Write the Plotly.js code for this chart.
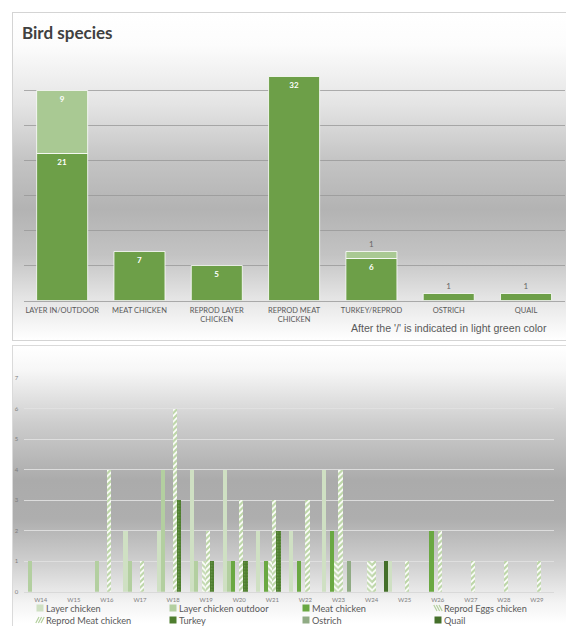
<!DOCTYPE html>
<html>
<head>
<meta charset="utf-8">
<script src="https://cdn.plot.ly/plotly-3.0.1.min.js"></script>
<style>
html,body{margin:0;padding:0;background:#fff;width:566px;height:626px;overflow:hidden;}
#wrap{position:relative;width:566px;height:626px;overflow:hidden;}
.box{position:absolute;box-sizing:border-box;}
#box1{left:12px;top:12px;width:600px;height:329px;border:1px solid #d4d4d4;
  background:linear-gradient(to bottom,#ffffff 0%,#fcfcfc 10%,#e4e4e4 28%,#c4c4c4 45%,#b3b3b3 60%,#c3c3c3 74%,#e4e4e4 87%,#ffffff 100%);}
#box2{left:12px;top:345px;width:600px;height:300px;border:1px solid #dadada;
  background:linear-gradient(to bottom,#ffffff 0%,#f7f7f7 8%,#cdcdcd 26%,#ababab 45%,#aeaeae 58%,#d2d2d2 74%,#f3f3f3 86%,#ffffff 93%);}
#chart{position:absolute;left:0;top:0;width:566px;height:626px;}
</style>
</head>
<body>
<div id="wrap">
  <div class="box" id="box1"></div>
  <div class="box" id="box2"></div>
  <div id="chart"></div>
</div>
<script>
// ---------- Data: top chart ----------
const topCategories = ['LAYER IN/OUTDOOR','MEAT CHICKEN','REPROD LAYER<br>CHICKEN','REPROD MEAT<br>CHICKEN','TURKEY/REPROD','OSTRICH','QUAIL'];
const mainCounts = [21, 7, 5, 32, 6, 1, 1];
const afterSlashCounts = [9, null, null, null, 1, null, null];

// ---------- Data: bottom chart ----------
const weeks = ['W14','W15','W16','W17','W18','W19','W20','W21','W22','W23','W24','W25','W26','W27','W28','W29'];
const layerChicken        = [0,0,0,2,2,4,4,2,2,4,0,1,0,0,0,0];
const layerChickenOutdoor = [1,0,1,1,4,1,1,0,0,0,0,0,0,0,0,0];
const meatChicken         = [0,0,0,0,0,0,1,1,1,2,0,0,2,0,0,0];
const reprodEggsChicken   = [0,0,0,0,0,1,0,1,0,1,1,0,0,0,0,0];
const reprodMeatChicken   = [0,0,4,1,6,2,3,3,3,4,1,1,2,1,1,1];
const turkey              = [0,0,0,0,3,1,1,2,0,0,0,0,0,0,0,0];
const ostrich             = [0,0,0,0,0,0,0,0,0,1,0,0,0,0,0,0];
const quail               = [0,0,0,0,0,0,0,0,0,0,1,0,0,0,0,0];
const seriesNames = ['Layer chicken','Layer chicken outdoor','Meat chicken','Reprod Eggs chicken','Reprod Meat chicken','Turkey','Ostrich','Quail'];

// ---------- helpers (page pixel -> paper fraction) ----------
const W = 566, H = 626;
const px = x => x / W;
const py = y => 1 - y / H;

const FONT = 'Lato, "Open Sans", sans-serif';
const DARK = '#6d9f48', LIGHT = '#a9c993';

const traces = [];
// top chart
traces.push({
  type:'bar', x: topCategories, y: mainCounts, xaxis:'x', yaxis:'y',
  offsetgroup:'a', width:0.66, offset:-0.33,
  marker:{color:DARK, line:{color:'#ffffff', width:0.8}},
  text: mainCounts.map(v => v == null ? '' : String(v)),
  textposition: mainCounts.map(v => v >= 3 ? 'inside' : 'outside'),
  insidetextanchor:'end', constraintext:'none', cliponaxis:false,
  insidetextfont:{family:FONT, size:8, color:'#ffffff', weight:'bold'},
  outsidetextfont:{family:FONT, size:8, color:'#666666'},
  hoverinfo:'skip', showlegend:false
});
traces.push({
  type:'bar', x: topCategories, y: afterSlashCounts, base: mainCounts, xaxis:'x', yaxis:'y',
  offsetgroup:'a', width:0.66, offset:-0.33,
  marker:{color:LIGHT, line:{color:'#ffffff', width:0.8}},
  text: afterSlashCounts.map(v => v == null ? '' : String(v)),
  textposition: afterSlashCounts.map(v => (v != null && v >= 3) ? 'inside' : 'outside'),
  insidetextanchor:'end', constraintext:'none', cliponaxis:false,
  insidetextfont:{family:FONT, size:8, color:'#ffffff', weight:'bold'},
  outsidetextfont:{family:FONT, size:8, color:'#666666'},
  hoverinfo:'skip', showlegend:false
});

// bottom chart
const bottomSeries = [layerChicken, layerChickenOutdoor, meatChicken, reprodEggsChicken, reprodMeatChicken, turkey, ostrich, quail];
const bottomMarkers = [
  {color:'#cfe0c3'},
  {color:'#b3cfa0'},
  {color:'#6aa842'},
  {color:'#c9ddb9', pattern:{shape:'\\', fgcolor:'#ffffff', bgcolor:'#c4dab2', size:4, solidity:0.45}},
  {color:'#bcd6a8', pattern:{shape:'/', fgcolor:'#ffffff', bgcolor:'#bdd6a8', size:4, solidity:0.45}},
  {color:'#4e7d2e', pattern:{shape:'.', fgcolor:'#6f9a50', bgcolor:'#4e7d2e', size:3, solidity:0.25}},
  {color:'#90ab84'},
  {color:'#446f2a'}
];
bottomSeries.forEach((vals, i) => {
  traces.push({
    type:'bar', name: seriesNames[i], x: weeks, y: vals, xaxis:'x2', yaxis:'y2',
    marker: bottomMarkers[i], hoverinfo:'skip', showlegend:false
  });
});

// manual legend for the bottom chart
const legendCols = [40, 173, 306, 438];
const legendRows = [608, 620];
const annotations = [];
const shapes = [];
seriesNames.forEach((name, i) => {
  const col = i % 4, row = Math.floor(i / 4);
  const cx = legendCols[col], cy = legendRows[row];
  annotations.push({
    xref:'paper', yref:'paper', x: px(cx + 5), y: py(cy), xanchor:'left', yanchor:'middle',
    text: name, showarrow:false, borderpad:0, font:{family:FONT, size:9.2, color:'#595959'}
  });
  const m = bottomMarkers[i];
  if (i === 3 || i === 4) {
    const dir = (i === 3) ? 1 : -1;
    let d = '';
    for (let k = -1; k <= 1; k++) {
      const ox = cx + k * 2.6;
      const xa = ox - 1.6 * dir, xb = ox + 1.6 * dir;
      d += `M ${px(xa)} ${py(cy - 3)} L ${px(xb)} ${py(cy + 3)} `;
    }
    shapes.push({type:'path', xref:'paper', yref:'paper', path:d, line:{color:'#b3cf9d', width:1.2}});
  } else {
    shapes.push({type:'rect', xref:'paper', yref:'paper',
      x0: px(cx - 3.5), x1: px(cx + 3.5), y0: py(cy + 3.5), y1: py(cy - 3.5),
      fillcolor: m.color, line:{width:0}});
  }
});
// note in the top chart
annotations.push({
  xref:'paper', yref:'paper', x: px(549), y: py(328), xanchor:'right', yanchor:'middle',
  text:"After the '/' is indicated in light green color", showarrow:false,
  font:{family:'"Liberation Sans", Arial, sans-serif', size:10.6, color:'#595959'}
});

const layout = {
  width: W, height: H,
  margin:{l:0, r:0, t:0, b:0, pad:0, autoexpand:false},
  paper_bgcolor:'rgba(0,0,0,0)', plot_bgcolor:'rgba(0,0,0,0)',
  barmode:'group', bargap:0, bargroupgap:0,
  showlegend:false,
  font:{family:FONT, color:'#595959'},
  title:{text:'<b>Bird species</b>', xref:'paper', yref:'paper', x: px(22), y: py(33),
         xanchor:'left', yanchor:'middle', font:{family:FONT, size:17, color:'#404040'}},
  xaxis:{domain:[px(23.5), px(564.7)], anchor:'y', type:'category',
         showline:true, linecolor:'#a9a9a9', linewidth:1, ticks:'', showgrid:false,
         tickfont:{family:FONT, size:7.5, color:'#595959'}, ticklabelstandoff:2, fixedrange:true},
  yaxis:{domain:[py(300.5), py(55.5)], anchor:'x', range:[0,35], dtick:5,
         showticklabels:false, showgrid:true, gridcolor:'rgba(150,150,150,0.75)', gridwidth:1,
         zeroline:false, showline:false, ticks:'', fixedrange:true},
  xaxis2:{domain:[px(24.2), px(553.5)], anchor:'y2', type:'category',
          showline:true, linecolor:'#d9d9d9', linewidth:1, ticks:'', showgrid:false,
          tickfont:{family:FONT, size:6, color:'#7f7f7f'}, ticklabelstandoff:2, fixedrange:true},
  yaxis2:{domain:[py(591.7), py(378.3)], anchor:'x2', range:[0,7], dtick:1,
          showgrid:true, gridcolor:'rgba(225,225,225,0.9)', gridwidth:1,
          zeroline:false, showline:false, ticks:'',
          tickfont:{family:FONT, size:6, color:'#7f7f7f'}, ticklabelstandoff:5, fixedrange:true},
  annotations: annotations,
  shapes: shapes
};

Plotly.newPlot('chart', traces, layout, {displayModeBar:false, staticPlot:true});
</script>
</body>
</html>
